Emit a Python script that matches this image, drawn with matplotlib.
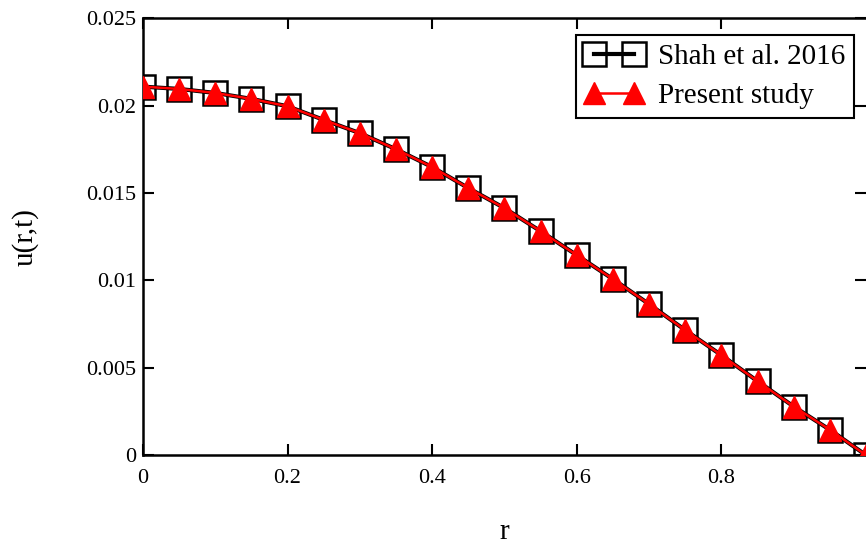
import matplotlib
matplotlib.use("Agg")
import matplotlib.pyplot as plt

# values
r = [0.0, 0.05, 0.1, 0.15, 0.2, 0.25, 0.3, 0.35, 0.4, 0.45, 0.5,
     0.55, 0.6, 0.65, 0.7, 0.75, 0.8, 0.85, 0.9, 0.95, 1.0]
u_shah = [0.02108, 0.02095, 0.02072, 0.02038, 0.01996, 0.01918, 0.01842,
          0.01750, 0.01648, 0.01528, 0.01413, 0.01281, 0.01144, 0.01007,
          0.00864, 0.00715, 0.00572, 0.00423, 0.00278, 0.00145, 0.0]
u_present = [0.02108, 0.02095, 0.02072, 0.02038, 0.01996, 0.01918, 0.01842,
             0.01750, 0.01648, 0.01528, 0.01413, 0.01281, 0.01144, 0.01007,
             0.00864, 0.00715, 0.00572, 0.00423, 0.00278, 0.00145, 0.0]

xticks = [0, 0.2, 0.4, 0.6, 0.8]
xtick_labels = ["0", "0.2", "0.4", "0.6", "0.8"]
yticks = [0, 0.005, 0.01, 0.015, 0.02, 0.025]
ytick_labels = ["0", "0.005", "0.01", "0.015", "0.02", "0.025"]

plt.rcParams['font.family'] = ['Liberation Serif', 'DejaVu Serif']

fig = plt.figure(figsize=(8.66, 5.49), dpi=100)
ax = fig.add_axes([0.165, 0.171, 0.835, 0.796])

# black curve with open squares, red curve with triangles on top
ax.plot(r, u_shah, color='black', lw=3.0, marker='s', markersize=17,
        markerfacecolor='none', markeredgecolor='black', markeredgewidth=1.8,
        label='Shah et al. 2016', zorder=2)
ax.plot(r, u_present, color='red', lw=1.8, marker='^', markersize=16,
        markerfacecolor='red', markeredgecolor='red',
        label='Present study', zorder=3)

ax.set_xlim(0, 1)
ax.set_ylim(0, 0.025)
ax.set_xticks(xticks)
ax.set_xticklabels(xtick_labels)
ax.set_yticks(yticks)
ax.set_yticklabels(ytick_labels)

ax.tick_params(direction='in', length=8, width=1.5, labelsize=16,
               top=True, right=True, pad=10)
ax.tick_params(axis='y', pad=5)
for s in ['left', 'bottom', 'top']:
    ax.spines[s].set_linewidth(1.8)
ax.spines['right'].set_visible(False)

ax.set_xlabel('r', fontsize=21, labelpad=22)
ax.set_ylabel('u(r,t)', fontsize=21, labelpad=34)

leg = ax.legend(loc='upper right', bbox_to_anchor=(0.983, 0.962),
                borderaxespad=0, fontsize=21, numpoints=2, handlelength=2.0,
                handletextpad=0.5, labelspacing=0.45, borderpad=0.3,
                fancybox=False, framealpha=1, edgecolor='black')
leg.get_frame().set_linewidth(1.5)

fig.savefig('out.png', dpi=100)
